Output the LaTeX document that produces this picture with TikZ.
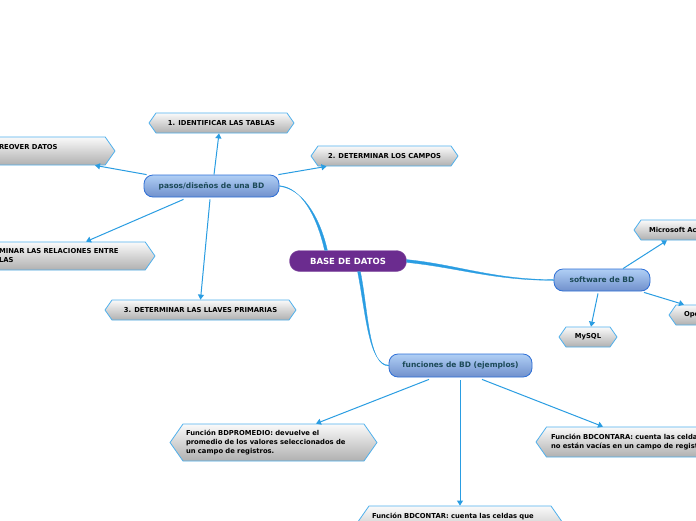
\documentclass[tikz,border=0pt]{standalone}
\usepackage{fontspec}
\setmainfont{DejaVu Sans}
\usetikzlibrary{shapes.symbols,arrows.meta}
\definecolor{conn}{RGB}{42,157,226}
\definecolor{hexedge}{RGB}{80,176,236}
\definecolor{hextop}{RGB}{250,250,250}
\definecolor{hexbot}{RGB}{176,176,176}
\definecolor{topicedge}{RGB}{46,111,214}
\definecolor{topictop}{RGB}{176,207,245}
\definecolor{topicbot}{RGB}{112,144,204}
\definecolor{topictext}{RGB}{28,74,88}
\definecolor{mainpurple}{RGB}{107,44,143}
\begin{document}
\begin{tikzpicture}[x=1pt,y=-1pt,
  hexbox/.style={shape=signal, signal to=west and east, signal pointer angle=110,
    draw=hexedge, line width=0.8pt, top color=hextop, bottom color=hexbot,
    font=\fontsize{6.8}{9}\selectfont\bfseries, text=black,
    inner xsep=3pt, inner ysep=2pt, minimum height=20pt},
  topicbox/.style={rectangle, rounded corners=9pt, draw=topicedge, line width=0.8pt,
    top color=topictop, bottom color=topicbot,
    font=\fontsize{7.5}{9}\selectfont\bfseries, text=topictext,
    minimum height=22pt, inner sep=0pt},
  mainbox/.style={rectangle, rounded corners=10pt, fill=mainpurple, draw=mainpurple!80!white,
    font=\fontsize{8.5}{10}\selectfont\bfseries, text=white,
    minimum width=117pt, minimum height=21pt, inner sep=0pt},
  arr/.style={draw=conn, line width=1pt, -{Triangle[length=5pt,width=6pt]}},
  branch/.style={fill=conn, draw=conn, line width=0.3pt}
]
\useasboundingbox (0,0) rectangle (696,520);
\clip (0,0) rectangle (696,520);
\fill[white] (0,0) rectangle (696,520);

% nodes
\node[mainbox] (base) at (348,261) {BASE DE DATOS};
\node[topicbox, minimum width=135pt] (pasos) at (211.5,186) {pasos/diseños de una BD};
\node[topicbox, minimum width=96pt] (soft) at (602,280) {software de BD};
\node[topicbox, minimum width=143pt, minimum height=23pt] (func) at (460.5,365.5) {funciones de BD (ejemplos)};

\node[hexbox, minimum width=145pt] (t1) at (221.5,123) {1. IDENTIFICAR LAS TABLAS};
\node[hexbox, minimum width=147pt] (t2) at (384.5,156) {2. DETERMINAR LOS CAMPOS};
\node[hexbox, minimum width=191pt] (t3) at (200.5,310) {3. DETERMINAR LAS LLAVES PRIMARIAS};
\node[hexbox, minimum width=132pt, minimum height=28pt, text width=100pt, align=left] (recover) at (49,151) {REOVER DATOS\\\mbox{}};
\node[hexbox, minimum width=182pt, minimum height=28pt, text width=130pt, align=left] (relac) at (64,256) {MINAR LAS RELACIONES ENTRE\\LAS};

\node[hexbox, minimum width=58pt] (mysql) at (588,337) {MySQL};
\node[hexbox, minimum width=110pt, text width=80pt, align=left] (msacc) at (689,230) {Microsoft Access};
\node[hexbox, minimum width=100pt, text width=70pt, align=left] (open) at (719,315) {OpenOffice};

\node[hexbox, minimum width=205pt, minimum height=37pt, text width=175pt, align=left] (prom) at (273.5,442.5)
  {Función BDPROMEDIO: devuelve el\\promedio de los valores seleccionados de\\un campo de registros.};
\node[hexbox, minimum width=220pt, minimum height=30pt, text width=190pt, align=left] (contara) at (646,442)
  {Función BDCONTARA: cuenta las celdas que\\no están vacías en un campo de registros.};
\node[hexbox, minimum width=204pt, minimum height=37pt, text width=176pt, align=left] (contar) at (460,524.5)
  {Función BDCONTAR: cuenta las celdas que\\\mbox{}\\\mbox{}};

% main branches (tapered: thick at the centre, thin at the topic)
\path[branch] ([xshift=-1.4pt]base.north) ++(-22pt,0) .. controls +(-8,-35) and +(22,2) .. ([yshift=0.35pt]pasos.east)
  -- ([yshift=-0.35pt]pasos.east) .. controls +(22,2) and +(-8,-35) .. ([xshift=1.4pt,xshift=-22pt]base.north) -- cycle;
\path[branch] ([yshift=1.4pt]base.east) .. controls +(50,5) and +(-60,0) .. ([yshift=0.35pt]soft.west)
  -- ([yshift=-0.35pt]soft.west) .. controls +(-60,0) and +(50,5) .. ([yshift=-1.4pt]base.east) -- cycle;
\path[branch] ([xshift=9.6pt]base.south) .. controls +(8,40) and +(-20,0) .. ([yshift=0.35pt]func.west)
  -- ([yshift=-0.35pt]func.west) .. controls +(-20,0) and +(8,40) .. ([xshift=12.4pt]base.south) -- cycle;

% pasos children
\draw[arr] ([xshift=2.5pt]pasos.north) -- ([xshift=-2.5pt]t1.south);
\draw[arr] ([xshift=-1pt]pasos.north east) -- ([xshift=-58pt]t2.south);
\draw[arr] ([xshift=3pt]pasos.north west) -- ([xshift=46pt]recover.south);
\draw[arr] ([xshift=-28pt,yshift=-2pt]pasos.south) -- ([xshift=22pt]relac.north);
\draw[arr] ([xshift=-1.5pt,yshift=-2pt]pasos.south) -- (t3.north);

% software children
\draw[arr] ([xshift=21pt]soft.north) -- ([xshift=-22pt]msacc.south);
\draw[arr] ([xshift=42pt,yshift=-1pt]soft.south) -- ([xshift=-35pt]open.north);
\draw[arr] ([xshift=-4pt,yshift=-2pt]soft.south) -- ([xshift=3pt]mysql.north);

% funciones children
\draw[arr] ([xshift=-31.5pt,yshift=-2pt]func.south) -- ([xshift=42.5pt]prom.north);
\draw[arr] ([xshift=-0.5pt,yshift=-3pt]func.south) -- (contar.north);
\draw[arr] ([xshift=21.5pt,yshift=-2pt]func.south) -- ([xshift=-43pt]contara.north);
\end{tikzpicture}
\end{document}
